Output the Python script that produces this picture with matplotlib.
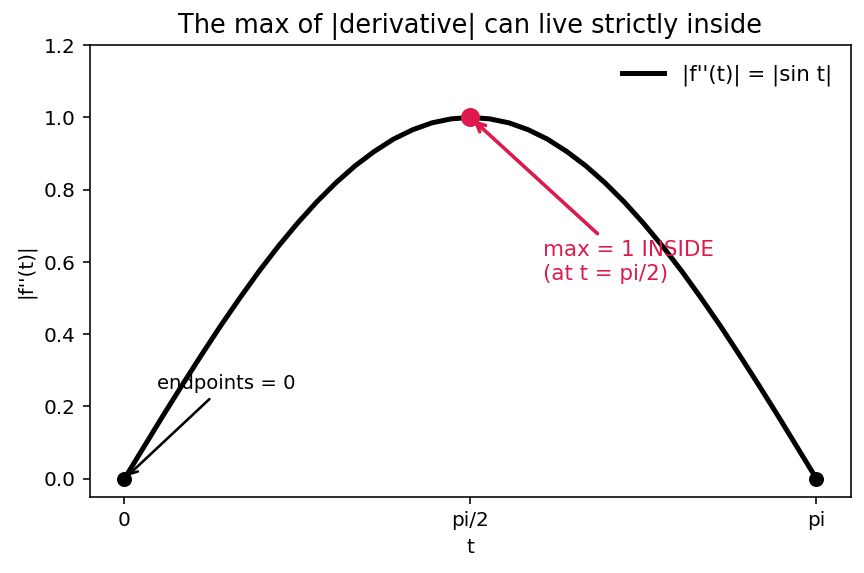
import numpy as np
import matplotlib
matplotlib.use("Agg")
import matplotlib.pyplot as plt

# |f''(t)| every 5 degrees, from t = 0 up to pi/2
half_vals = [0.0, 0.087, 0.174, 0.259, 0.342, 0.423, 0.5, 0.574, 0.643, 0.707,
             0.766, 0.819, 0.866, 0.906, 0.940, 0.966, 0.985, 0.996, 1.0]
y_vals = half_vals + half_vals[-2::-1]
t_vals = np.linspace(0, np.pi, len(y_vals))

end_t = [0, np.pi]
end_y = [0, 0]
peak_t = np.pi / 2
peak_y = 1.0

tick_pos = [0, np.pi / 2, np.pi]
tick_labels = ["0", "pi/2", "pi"]

red = "#dc1a4b"

fig, ax = plt.subplots(figsize=(6, 3.98), dpi=144)
fig.subplots_adjust(left=0.104, right=0.985, top=0.921, bottom=0.133)

ax.plot(t_vals, y_vals, color="black", lw=2.5, label="|f''(t)| = |sin t|")
ax.plot(end_t, end_y, "o", color="black", ms=6.5)
ax.plot([peak_t], [peak_y], "o", color=red, ms=8.5)

ax.annotate("max = 1 INSIDE\n(at t = pi/2)", xy=(peak_t, peak_y),
            xytext=(1.9, 0.6), va="center", ha="left", color=red, fontsize=10.7,
            arrowprops=dict(arrowstyle="->", color=red, lw=1.8))
ax.annotate("endpoints = 0", xy=(0, 0), xytext=(0.15, 0.25),
            fontsize=9.8, color="black",
            arrowprops=dict(arrowstyle="->", color="black", lw=1.3))

ax.set_xticks(tick_pos)
ax.set_xticklabels(tick_labels)
ax.set_ylim(-0.05, 1.2)
ax.set_xlabel("t")
ax.set_ylabel("|f''(t)|")
ax.set_title("The max of |derivative| can live strictly inside", fontsize=12.8)
ax.legend(loc="upper right", frameon=False, fontsize=10.7)

fig.savefig("out.png", dpi=144)
